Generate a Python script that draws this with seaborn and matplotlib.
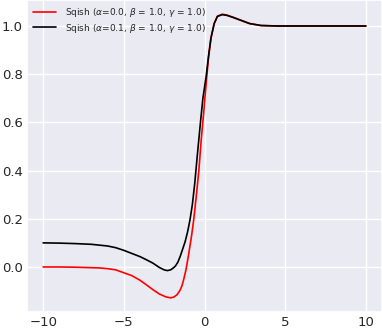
import matplotlib
matplotlib.use("Agg")
import matplotlib.pyplot as plt
import seaborn as sns
import pandas as pd

# Series
x_red = [-10, -9, -8, -7, -6.5, -6, -5.5, -5, -4.5, -4, -3.6, -3.2, -2.8, -2.4, -2.1,
         -1.9, -1.7, -1.5, -1.4, -1.3, -1.15, -1.0, -0.8, -0.66, -0.5, -0.35, -0.2, -0.05,
         0.1, 0.25, 0.4, 0.6, 0.8, 1.1, 1.4, 1.8, 2.2, 2.8, 3.5, 4.5, 10]
y_red = [0.0, 0.0, -0.001, -0.003, -0.004, -0.007, -0.012, -0.024, -0.036, -0.055, -0.074,
         -0.094, -0.112, -0.124, -0.128, -0.125, -0.115, -0.095, -0.078, -0.055, -0.012, 0.045,
         0.13, 0.20, 0.30, 0.40, 0.53, 0.64, 0.76, 0.87, 0.95, 1.01, 1.04, 1.049, 1.045,
         1.035, 1.025, 1.01, 1.002, 1.0, 1.0]

x_black = [-10, -9, -8, -7, -6, -5.5, -5, -4.5, -4, -3.6, -3.2, -2.8, -2.5, -2.3, -2.1,
           -1.95, -1.8, -1.65, -1.5, -1.35, -1.2, -1.05, -0.9, -0.75, -0.6, -0.45, -0.25,
           -0.1, 0.1, 0.25, 0.4, 0.6, 0.8, 1.1, 1.4, 1.8, 2.2, 2.8, 3.5, 4.5, 10]
y_black = [0.1, 0.099, 0.097, 0.094, 0.087, 0.080, 0.069, 0.056, 0.043, 0.030, 0.016, -0.002,
           -0.012, -0.015, -0.012, -0.005, 0.004, 0.020, 0.045, 0.075, 0.105, 0.145, 0.195,
           0.26, 0.35, 0.46, 0.60, 0.70, 0.79, 0.875, 0.95, 1.01, 1.04, 1.047, 1.044, 1.035,
           1.025, 1.01, 1.002, 1.0, 1.0]

label_red = r"Sqish ($\alpha$=0.0, $\beta$ = 1.0, $\gamma$ = 1.0)"
label_black = r"Sqish ($\alpha$=0.1, $\beta$ = 1.0, $\gamma$ = 1.0)"

sns.set_theme(style="darkgrid")

fig = plt.figure(figsize=(3.82, 3.28), dpi=100)
ax = fig.add_axes([27 / 382, 1 - 312 / 328, 1 - 27 / 382, 312 / 328])

df_red = pd.DataFrame({"x": x_red, "y": y_red})
df_black = pd.DataFrame({"x": x_black, "y": y_black})
sns.lineplot(data=df_red, x="x", y="y", ax=ax, color="red", lw=1.2, label=label_red)
sns.lineplot(data=df_black, x="x", y="y", ax=ax, color="black", lw=1.2, label=label_black)

ax.set_xlabel("")
ax.set_ylabel("")
ax.set_xticks([-10, -5, 0, 5, 10])
ax.set_yticks([0.0, 0.2, 0.4, 0.6, 0.8, 1.0])
ax.tick_params(axis="y", labelsize=9.5, length=0, pad=3)
ax.tick_params(axis="x", labelsize=9.5, length=0, pad=3)
ax.legend(loc="upper left", fontsize=6.5, borderaxespad=0.25, handlelength=2.6,
          handletextpad=1.0, labelspacing=0.3, frameon=False)

fig.savefig("out.png", dpi=100)
